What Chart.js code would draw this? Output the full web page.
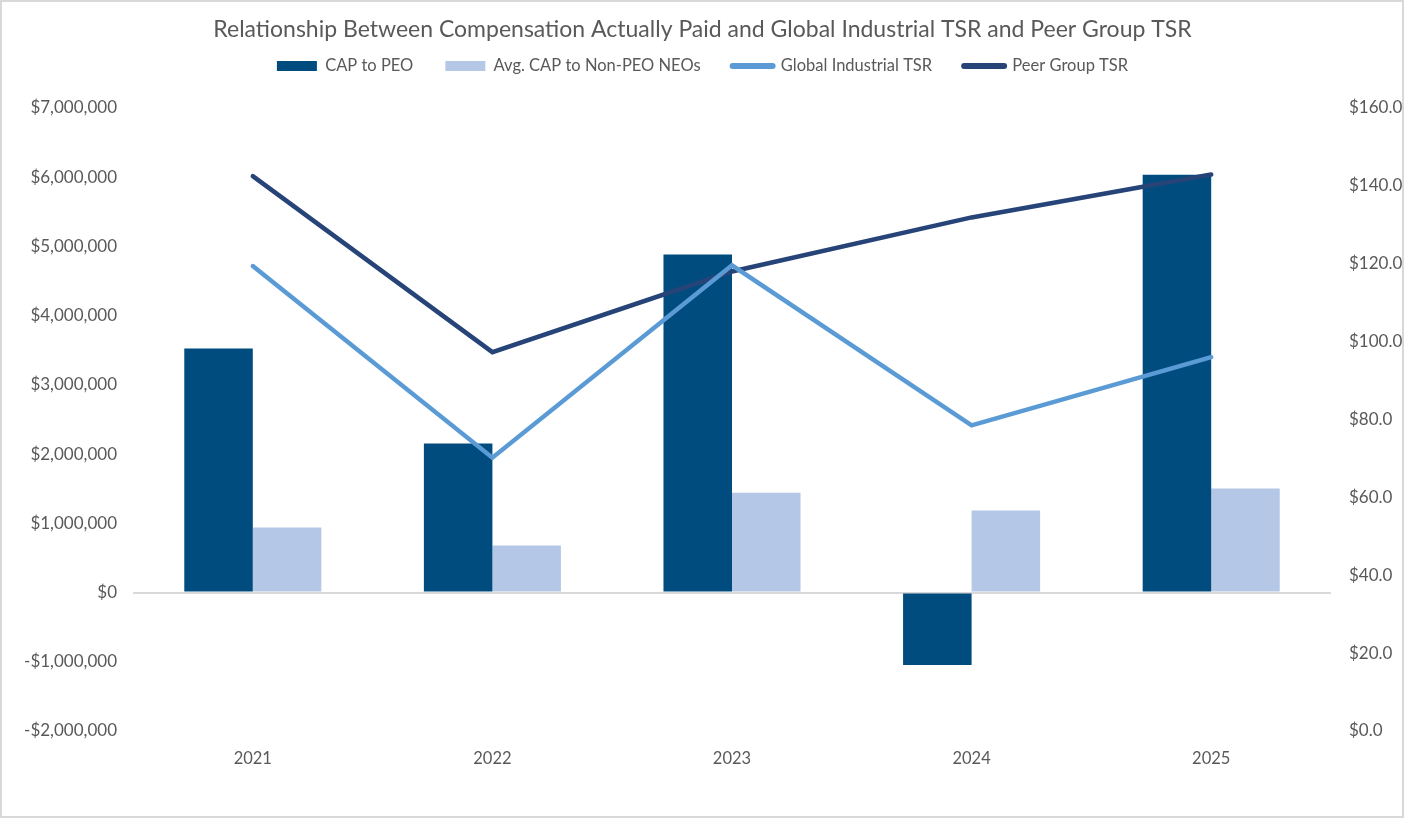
<!DOCTYPE html>
<html>
<head>
<meta charset="utf-8">
<script src="https://cdn.jsdelivr.net/npm/chart.js@4.4.0/dist/chart.umd.min.js"></script>
<style>
  html, body { margin: 0; padding: 0; background: #ffffff; }
  #wrap { width: 1405px; height: 819px; position: relative; }
</style>
</head>
<body>
<div id="wrap"><canvas id="c" width="1405" height="819"></canvas></div>
<script>
const years = ['2021', '2022', '2023', '2024', '2025'];
const capToPEO = [3525000, 2154000, 4882000, -1047000, 6037000];
const avgCapNonPEO = [941000, 681000, 1442000, 1187000, 1504000];
const globalIndustrialTSR = [119.4, 70.2, 119.6, 78.5, 96.0];
const peerGroupTSR = [142.5, 97.3, 118.0, 131.9, 142.9];
const leftTicks = { min: -2000000, max: 7000000, step: 1000000 };
const rightTicks = { min: 0, max: 160, step: 20 };

const FONT = 'Lato, "Open Sans", sans-serif';
const GREY = '#595959';

const borderPlugin = {
  id: 'outerBorder',
  afterDraw(chart) {
    const ctx = chart.ctx;
    ctx.save();
    ctx.strokeStyle = '#d9d9d9';
    ctx.lineWidth = 2;
    ctx.strokeRect(1, 1, chart.width - 3, chart.height - 3);
    ctx.restore();
  }
};

function money(v) {
  const s = Math.abs(v).toLocaleString('en-US');
  return (v < 0 ? '-$' : '$') + s;
}

new Chart(document.getElementById('c'), {
  type: 'bar',
  data: {
    labels: years,
    datasets: [
      { label: 'CAP to PEO', data: capToPEO, backgroundColor: '#004c7f', yAxisID: 'y', order: 1,
        categoryPercentage: 0.572, barPercentage: 1.0 },
      { label: 'Avg. CAP to Non-PEO NEOs', data: avgCapNonPEO, backgroundColor: '#b4c7e7', yAxisID: 'y', order: 1,
        categoryPercentage: 0.572, barPercentage: 1.0 },
      { type: 'line', label: 'Global Industrial TSR', data: globalIndustrialTSR, borderColor: '#5b9bd5',
        backgroundColor: '#5b9bd5', borderWidth: 4.5, pointRadius: 0, yAxisID: 'y1', order: 0,
        borderCapStyle: 'round', tension: 0 },
      { type: 'line', label: 'Peer Group TSR', data: peerGroupTSR, borderColor: '#264478',
        backgroundColor: '#264478', borderWidth: 4.5, pointRadius: 0, yAxisID: 'y1', order: 0,
        borderCapStyle: 'round', tension: 0 }
    ]
  },
  options: {
    responsive: false,
    animation: false,
    layout: { padding: { top: 0, left: 0, right: 0, bottom: 0 } },
    plugins: {
      title: {
        display: true,
        text: 'Relationship Between Compensation Actually Paid and Global Industrial TSR and Peer Group TSR',
        color: GREY,
        font: { family: FONT, size: 23, weight: 'normal' },
        padding: { top: 16, bottom: -17.85 }
      },
      subtitle: {
        display: true,
        text: ' ',
        weight: 500,
        font: { family: FONT, size: 10 },
        padding: { top: 11.75, bottom: 0 }
      },
      legend: {
        display: true,
        position: 'top',
        labels: {
          color: GREY,
          font: { family: FONT, size: 16.5 },
          usePointStyle: true,
          pointStyleWidth: 40,
          boxHeight: 10,
          padding: 32,
          sort: (a, b) => a.datasetIndex - b.datasetIndex,
          generateLabels(chart) {
            const items = Chart.defaults.plugins.legend.labels.generateLabels(chart);
            items.forEach(it => {
              const ds = chart.data.datasets[it.datasetIndex];
              if (ds.type === 'line') {
                it.pointStyle = 'line';
                it.lineWidth = 6;
                it.strokeStyle = ds.borderColor;
                it.lineCap = 'round';
              } else {
                it.pointStyle = 'rect';
                it.lineWidth = 0;
                it.fillStyle = ds.backgroundColor;
                it.strokeStyle = ds.backgroundColor;
              }
            });
            return items;
          }
        }
      },
      tooltip: { enabled: false }
    },
    scales: {
      x: {
        grid: { display: false, drawTicks: false },
        border: { display: false },
        ticks: { color: GREY, font: { family: FONT, size: 16.5 }, padding: 18 },
        afterFit(scale) { scale.height = 88; }
      },
      y: {
        position: 'left',
        min: leftTicks.min,
        max: leftTicks.max,
        grid: {
          drawTicks: false,
          lineWidth: 2,
          color: (ctx) => (ctx.tick && ctx.tick.value === 0) ? '#d9d9d9' : 'rgba(0,0,0,0)'
        },
        border: { display: false },
        ticks: {
          stepSize: leftTicks.step,
          color: GREY,
          font: { family: FONT, size: 17 },
          padding: 16,
          callback: (v) => money(v)
        },
        afterFit(scale) { scale.width = 133; }
      },
      y1: {
        position: 'right',
        min: rightTicks.min,
        max: rightTicks.max,
        grid: { display: false, drawTicks: false },
        border: { display: false },
        ticks: {
          stepSize: rightTicks.step,
          color: GREY,
          font: { family: FONT, size: 17 },
          padding: 18,
          callback: (v) => '$' + Number(v).toFixed(1)
        },
        afterFit(scale) { scale.width = 74; }
      }
    }
  },
  plugins: [borderPlugin]
});
</script>
</body>
</html>
